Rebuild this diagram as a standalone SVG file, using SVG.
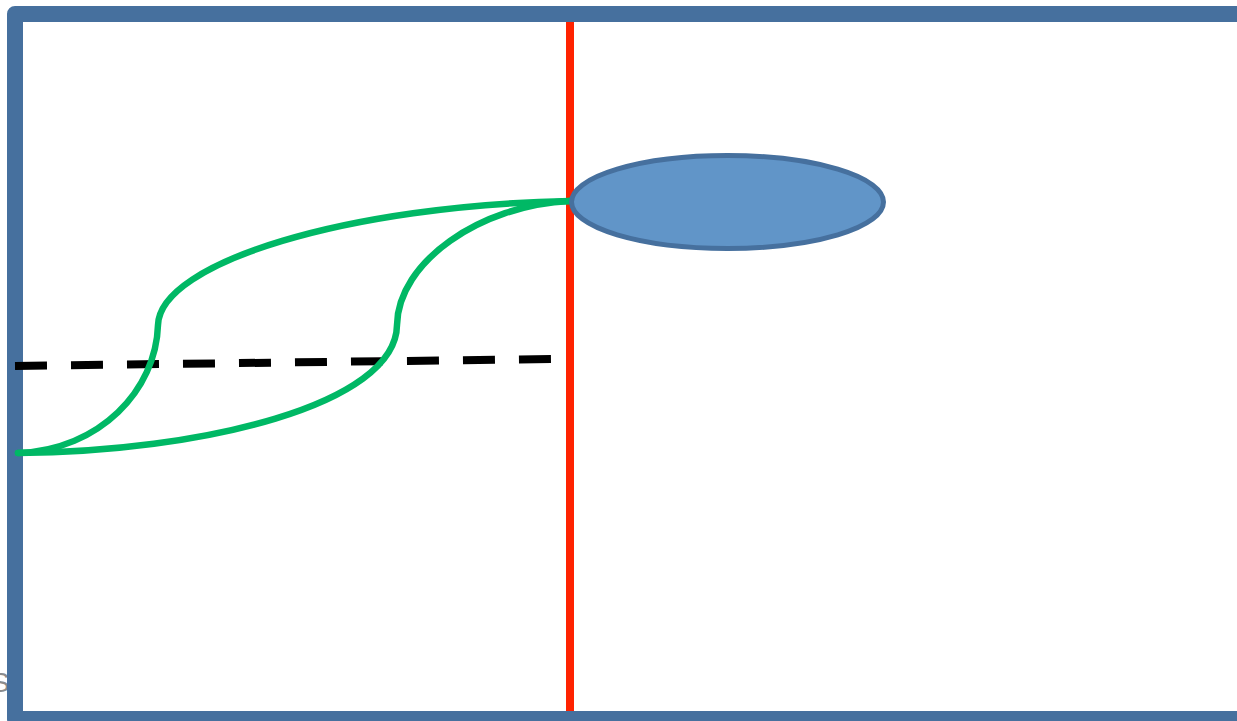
<svg xmlns="http://www.w3.org/2000/svg" width="1237" height="721" viewBox="0 0 1237 721">
<style>
.green{fill:none;stroke:#00B865;stroke-width:6.5;stroke-linecap:round}
</style>
<rect width="1237" height="721" fill="#ffffff"/>
<g id="label-s"><text x="-9" y="692" font-family="Liberation Sans, Arial, sans-serif" font-size="28" fill="#8C8C8C">S</text></g>
<g id="frame"><rect x="15" y="14" width="1240" height="705" fill="none" stroke="#46709E" stroke-width="16" stroke-linejoin="round"/></g>
<g id="divider"><line x1="570" y1="22" x2="570" y2="711" stroke="#FF2200" stroke-width="8"/></g>
<g id="connectors">
<line x1="15" y1="366" x2="551" y2="359" stroke="#000" stroke-width="8" stroke-dasharray="32 24"/>
<path class="green" d="M570,201 C350,205 160,262 158,325 C156,390 100,450 18,453"/>
<path class="green" d="M570,201 C480,205 398,262 397,325 C396,405 200,452 18,453"/>
</g>
<g id="ellipse-node"><ellipse cx="727.5" cy="202" rx="156" ry="46.5" fill="#6195C8" stroke="#46709E" stroke-width="5"/></g>
</svg>
